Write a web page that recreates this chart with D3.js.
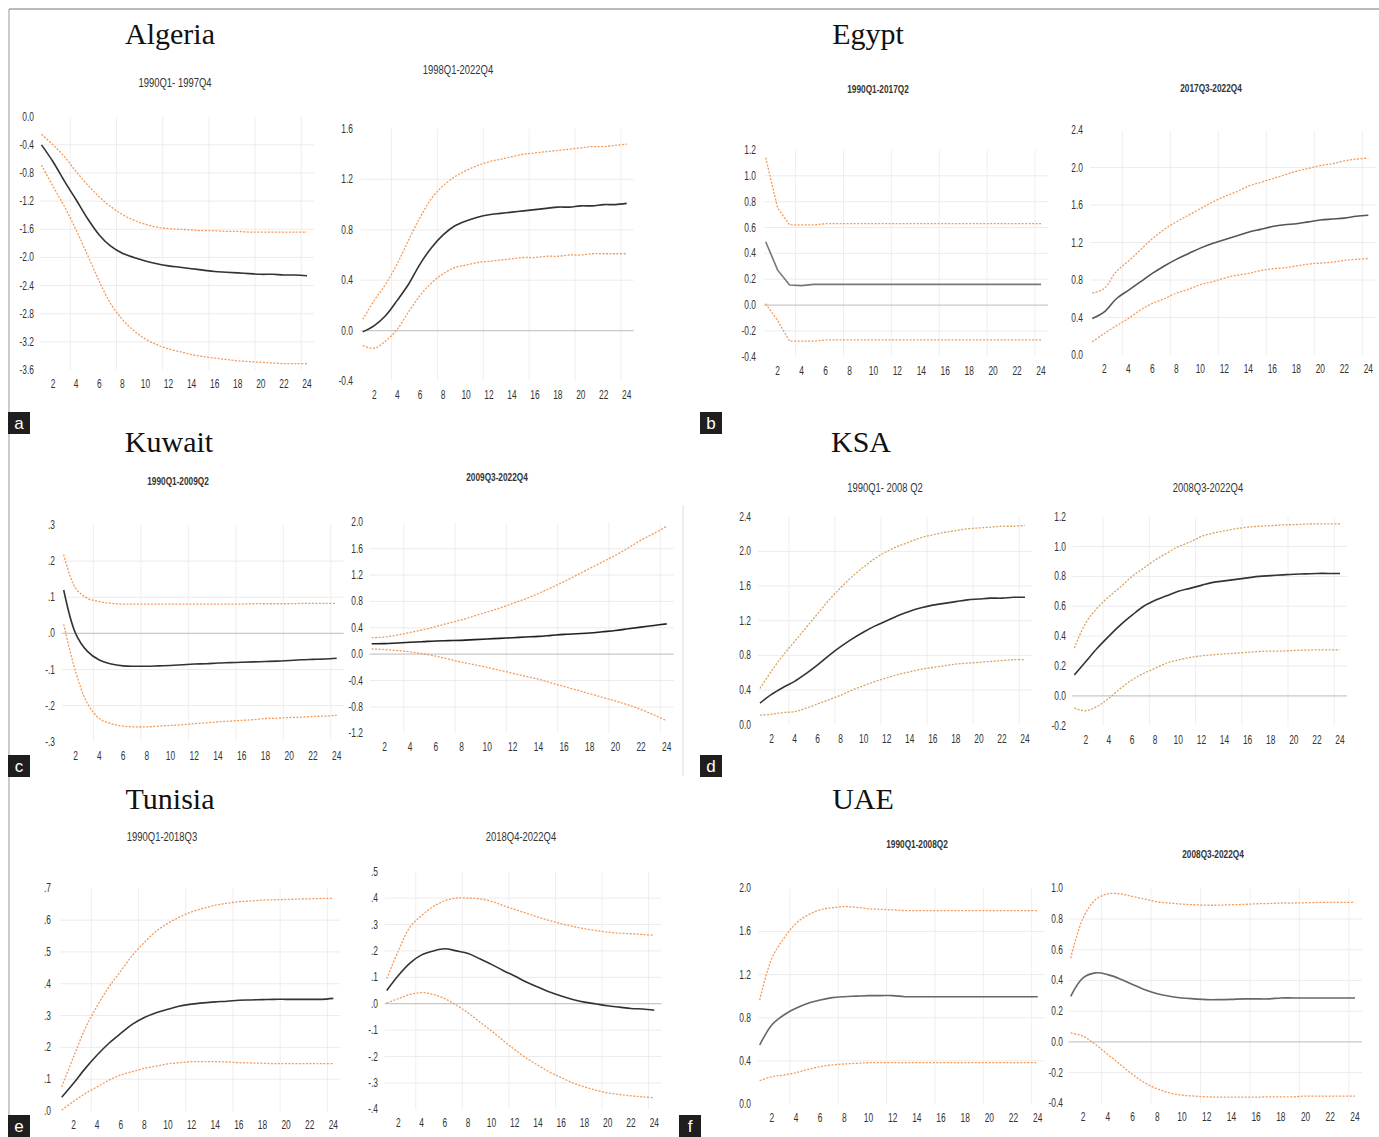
<!DOCTYPE html>
<html>
<head>
<meta charset="utf-8">
<script src="https://cdn.jsdelivr.net/npm/d3@7/dist/d3.min.js"></script>
<style>
  body { margin: 0; background: #fff; }
  .tick-label { font-family: "Liberation Sans", Arial, sans-serif; font-size: 12px; fill: #333; }
  .sub-title { font-family: "Liberation Sans", Arial, sans-serif; fill: #333; }
  .country { font-family: "Liberation Serif", "Times New Roman", serif; font-size: 30px; fill: #111; }
</style>
</head>
<body>
<div id="chart"></div>
<script>
// horizon (quarters after the shock)
var periods = [1,2,3,4,5,6,7,8,9,10,11,12,13,14,15,16,17,18,19,20,21,22,23,24];
var xTickLabels = [2,4,6,8,10,12,14,16,18,20,22,24];

// Algeria
var algeriaPre = [-0.40,-0.64,-0.92,-1.18,-1.45,-1.68,-1.84,-1.94,-2.00,-2.05,-2.09,-2.12,-2.14,-2.16,-2.18,-2.20,-2.21,-2.22,-2.23,-2.24,-2.24,-2.25,-2.25,-2.26];
var algeriaPreUp = [-0.25,-0.40,-0.57,-0.78,-0.97,-1.14,-1.28,-1.39,-1.47,-1.53,-1.57,-1.59,-1.60,-1.61,-1.62,-1.62,-1.63,-1.63,-1.64,-1.64,-1.64,-1.64,-1.64,-1.64];
var algeriaPreLo = [-0.69,-0.99,-1.28,-1.61,-1.97,-2.34,-2.66,-2.88,-3.04,-3.16,-3.24,-3.30,-3.34,-3.38,-3.41,-3.43,-3.45,-3.47,-3.48,-3.49,-3.50,-3.51,-3.51,-3.51];
var algeriaPost = [-0.01,0.04,0.12,0.24,0.37,0.53,0.66,0.76,0.83,0.87,0.90,0.92,0.93,0.94,0.95,0.96,0.97,0.98,0.98,0.99,0.99,1.00,1.00,1.01];
var algeriaPostUp = [0.09,0.24,0.37,0.53,0.72,0.90,1.05,1.15,1.22,1.27,1.31,1.34,1.36,1.38,1.40,1.41,1.42,1.43,1.44,1.45,1.46,1.46,1.47,1.48];
var algeriaPostLo = [-0.12,-0.14,-0.08,0.01,0.15,0.28,0.38,0.45,0.50,0.52,0.54,0.55,0.56,0.57,0.58,0.58,0.59,0.59,0.60,0.60,0.61,0.61,0.61,0.61];

// Egypt
var egyptPre = [0.49,0.27,0.155,0.15,0.16,0.16,0.16,0.16,0.16,0.16,0.16,0.16,0.16,0.16,0.16,0.16,0.16,0.16,0.16,0.16,0.16,0.16,0.16,0.16];
var egyptPreUp = [1.14,0.75,0.62,0.62,0.62,0.63,0.63,0.63,0.63,0.63,0.63,0.63,0.63,0.63,0.63,0.63,0.63,0.63,0.63,0.63,0.63,0.63,0.63,0.63];
var egyptPreLo = [0.01,-0.12,-0.28,-0.28,-0.28,-0.27,-0.27,-0.27,-0.27,-0.27,-0.27,-0.27,-0.27,-0.27,-0.27,-0.27,-0.27,-0.27,-0.27,-0.27,-0.27,-0.27,-0.27,-0.27];
var egyptPost = [0.39,0.46,0.60,0.69,0.78,0.87,0.95,1.02,1.08,1.14,1.19,1.23,1.27,1.31,1.34,1.37,1.39,1.40,1.42,1.44,1.45,1.46,1.48,1.49];
var egyptPostUp = [0.66,0.71,0.89,1.00,1.12,1.24,1.34,1.42,1.49,1.56,1.63,1.69,1.74,1.80,1.84,1.88,1.92,1.96,1.99,2.02,2.04,2.07,2.09,2.10];
var egyptPostLo = [0.14,0.23,0.31,0.39,0.48,0.55,0.60,0.66,0.70,0.75,0.78,0.82,0.85,0.87,0.90,0.92,0.93,0.95,0.97,0.98,0.99,1.01,1.02,1.03];

// Kuwait
var kuwaitPre = [0.12,0.00,-0.05,-0.074,-0.085,-0.09,-0.091,-0.091,-0.09,-0.089,-0.087,-0.085,-0.084,-0.082,-0.081,-0.08,-0.079,-0.078,-0.077,-0.075,-0.073,-0.072,-0.071,-0.069];
var kuwaitPreUp = [0.218,0.125,0.097,0.088,0.083,0.081,0.081,0.081,0.081,0.081,0.081,0.081,0.081,0.081,0.081,0.081,0.082,0.082,0.082,0.082,0.083,0.083,0.083,0.083];
var kuwaitPreLo = [0.025,-0.106,-0.194,-0.236,-0.25,-0.257,-0.259,-0.259,-0.257,-0.255,-0.253,-0.25,-0.248,-0.245,-0.243,-0.241,-0.239,-0.236,-0.235,-0.233,-0.232,-0.23,-0.229,-0.227];
var kuwaitPost = [0.157,0.16,0.17,0.18,0.19,0.20,0.205,0.21,0.22,0.23,0.24,0.25,0.26,0.27,0.285,0.30,0.31,0.32,0.34,0.36,0.385,0.41,0.435,0.46];
var kuwaitPostUp = [0.25,0.26,0.29,0.33,0.37,0.42,0.47,0.52,0.58,0.64,0.70,0.77,0.84,0.92,1.01,1.10,1.20,1.30,1.40,1.50,1.61,1.73,1.83,1.94];
var kuwaitPostLo = [0.08,0.07,0.055,0.035,0.005,-0.03,-0.075,-0.12,-0.16,-0.20,-0.245,-0.29,-0.335,-0.38,-0.435,-0.49,-0.545,-0.60,-0.655,-0.71,-0.77,-0.84,-0.92,-1.01];

// KSA
var ksaPre = [0.25,0.35,0.43,0.50,0.59,0.69,0.80,0.90,0.99,1.07,1.14,1.20,1.26,1.31,1.35,1.38,1.40,1.42,1.44,1.45,1.46,1.46,1.47,1.47];
var ksaPreUp = [0.42,0.62,0.80,0.96,1.12,1.28,1.44,1.58,1.71,1.82,1.92,2.00,2.06,2.11,2.16,2.19,2.22,2.24,2.26,2.27,2.28,2.29,2.29,2.30];
var ksaPreLo = [0.11,0.12,0.14,0.15,0.19,0.24,0.29,0.34,0.40,0.45,0.50,0.54,0.58,0.61,0.64,0.66,0.68,0.70,0.71,0.72,0.73,0.74,0.75,0.75];
var ksaPost = [0.14,0.23,0.32,0.40,0.475,0.54,0.60,0.64,0.67,0.70,0.72,0.74,0.76,0.77,0.78,0.79,0.80,0.805,0.81,0.815,0.817,0.82,0.82,0.82];
var ksaPostUp = [0.32,0.49,0.59,0.665,0.73,0.80,0.855,0.91,0.955,1.00,1.03,1.067,1.09,1.105,1.12,1.13,1.136,1.14,1.145,1.147,1.15,1.152,1.152,1.152];
var ksaPostLo = [-0.083,-0.10,-0.07,-0.016,0.05,0.107,0.15,0.185,0.22,0.24,0.257,0.268,0.275,0.281,0.286,0.292,0.297,0.30,0.30,0.304,0.306,0.308,0.308,0.308];

// Tunisia
var tunisiaPre = [0.043,0.087,0.134,0.176,0.213,0.244,0.273,0.294,0.309,0.32,0.33,0.336,0.34,0.343,0.345,0.348,0.349,0.35,0.351,0.351,0.351,0.351,0.351,0.354];
var tunisiaPreUp = [0.076,0.17,0.26,0.33,0.39,0.44,0.49,0.53,0.565,0.59,0.61,0.626,0.637,0.647,0.653,0.658,0.66,0.663,0.664,0.665,0.666,0.667,0.668,0.668];
var tunisiaPreLo = [0.003,0.03,0.055,0.076,0.097,0.113,0.124,0.134,0.141,0.148,0.152,0.155,0.155,0.155,0.154,0.152,0.151,0.15,0.149,0.149,0.149,0.149,0.149,0.149];
var tunisiaPost = [0.05,0.107,0.154,0.185,0.20,0.208,0.20,0.19,0.17,0.149,0.126,0.105,0.082,0.063,0.044,0.029,0.016,0.006,-0.001,-0.008,-0.013,-0.018,-0.02,-0.025];
var tunisiaPostUp = [0.095,0.20,0.29,0.334,0.368,0.39,0.40,0.40,0.397,0.388,0.372,0.357,0.343,0.328,0.315,0.303,0.293,0.284,0.277,0.271,0.267,0.265,0.262,0.259];
var tunisiaPostLo = [0.003,0.019,0.035,0.042,0.035,0.019,-0.006,-0.035,-0.069,-0.103,-0.139,-0.174,-0.206,-0.233,-0.259,-0.28,-0.30,-0.315,-0.328,-0.338,-0.344,-0.349,-0.353,-0.356];

// UAE
var uaePre = [0.547,0.733,0.825,0.887,0.934,0.964,0.986,0.995,1.00,1.005,1.005,1.005,0.995,0.995,0.995,0.995,0.995,0.995,0.995,0.995,0.995,0.995,0.995,0.995];
var uaePreUp = [0.964,1.35,1.536,1.675,1.753,1.80,1.82,1.83,1.824,1.81,1.805,1.80,1.793,1.793,1.793,1.793,1.793,1.793,1.793,1.793,1.793,1.793,1.793,1.793];
var uaePreLo = [0.216,0.253,0.269,0.29,0.321,0.346,0.362,0.371,0.377,0.383,0.383,0.383,0.383,0.383,0.383,0.383,0.383,0.383,0.383,0.383,0.383,0.383,0.383,0.383];
var uaePost = [0.297,0.416,0.449,0.438,0.41,0.373,0.34,0.314,0.297,0.286,0.28,0.275,0.275,0.277,0.28,0.28,0.28,0.286,0.286,0.286,0.286,0.286,0.286,0.286];
var uaePostUp = [0.546,0.806,0.925,0.964,0.964,0.947,0.93,0.912,0.904,0.897,0.893,0.89,0.89,0.893,0.895,0.899,0.901,0.904,0.904,0.906,0.908,0.908,0.908,0.908];
var uaePostLo = [0.058,0.037,-0.017,-0.082,-0.147,-0.212,-0.267,-0.306,-0.332,-0.347,-0.353,-0.358,-0.36,-0.36,-0.36,-0.36,-0.358,-0.358,-0.358,-0.353,-0.353,-0.353,-0.353,-0.353];

// y tick values of each panel
var ticksAlgeriaPre = [0.0,-0.4,-0.8,-1.2,-1.6,-2.0,-2.4,-2.8,-3.2,-3.6];
var ticksAlgeriaPost = [1.6,1.2,0.8,0.4,0.0,-0.4];
var ticksEgyptPre = [1.2,1.0,0.8,0.6,0.4,0.2,0.0,-0.2,-0.4];
var ticksEgyptPost = [2.4,2.0,1.6,1.2,0.8,0.4,0.0];
var ticksKuwaitPre = [0.3,0.2,0.1,0.0,-0.1,-0.2,-0.3];
var ticksKuwaitPost = [2.0,1.6,1.2,0.8,0.4,0.0,-0.4,-0.8,-1.2];
var ticksKsaPre = [2.4,2.0,1.6,1.2,0.8,0.4,0.0];
var ticksKsaPost = [1.2,1.0,0.8,0.6,0.4,0.2,0.0,-0.2];
var ticksTunisiaPre = [0.7,0.6,0.5,0.4,0.3,0.2,0.1,0.0];
var ticksTunisiaPost = [0.5,0.4,0.3,0.2,0.1,0.0,-0.1,-0.2,-0.3,-0.4];
var ticksUaePre = [2.0,1.6,1.2,0.8,0.4,0.0];
var ticksUaePost = [1.0,0.8,0.6,0.4,0.2,0.0,-0.2,-0.4];

var countries = [
  { name: "Algeria", x: 170, y: 33 },
  { name: "Egypt", x: 868, y: 33 },
  { name: "Kuwait", x: 169, y: 441 },
  { name: "KSA", x: 861, y: 441 },
  { name: "Tunisia", x: 170, y: 798 },
  { name: "UAE", x: 863, y: 798 }
];
var panelLetters = [
  { t: "a", x: 8, y: 412 }, { t: "b", x: 700, y: 412 },
  { t: "c", x: 8, y: 755 }, { t: "d", x: 700, y: 755 },
  { t: "e", x: 8, y: 1115 }, { t: "f", x: 679, y: 1115 }
];

// EViews-like labels: plain hyphen, and ".3" style for one-digit scales
var oneDec = function(d) { return d3.format(".1f")(d).replace("\u2212", "-"); };
var dotFmt = function(d) { return oneDec(d).replace("0.", "."); };

var smooth = d3.curveCatmullRom.alpha(0.5);

var panels = [
  { title: "1990Q1- 1997Q4", tx: 175, ty: 82, bold: false, resp: algeriaPre, up: algeriaPreUp, lo: algeriaPreLo, ticks: ticksAlgeriaPre, fmt: oneDec,
    x1: 41.5, x24: 307, yTop: 116.7, yBot: 370, lab: 34, line: "#333" },
  { title: "1998Q1-2022Q4", tx: 458, ty: 69, bold: false, resp: algeriaPost, up: algeriaPostUp, lo: algeriaPostLo, ticks: ticksAlgeriaPost, fmt: oneDec,
    x1: 362.8, x24: 626.7, yTop: 129, yBot: 381, lab: 353, line: "#333" },
  { title: "1990Q1-2017Q2", tx: 878, ty: 89, bold: true, resp: egyptPre, up: egyptPreUp, lo: egyptPreLo, ticks: ticksEgyptPre, fmt: oneDec,
    x1: 765.7, x24: 1041, yTop: 150, yBot: 356.7, lab: 756, line: "#777", curve: d3.curveLinear },
  { title: "2017Q3-2022Q4", tx: 1211, ty: 88, bold: true, resp: egyptPost, up: egyptPostUp, lo: egyptPostLo, ticks: ticksEgyptPost, fmt: oneDec,
    x1: 1092.3, x24: 1368.3, yTop: 130, yBot: 355, lab: 1083, line: "#555" },
  { title: "1990Q1-2009Q2", tx: 178, ty: 481, bold: true, resp: kuwaitPre, up: kuwaitPreUp, lo: kuwaitPreLo, ticks: ticksKuwaitPre, fmt: dotFmt,
    x1: 63.7, x24: 336.7, yTop: 525, yBot: 741.7, lab: 55, line: "#333" },
  { title: "2009Q3-2022Q4", tx: 497, ty: 477, bold: true, resp: kuwaitPost, up: kuwaitPostUp, lo: kuwaitPostLo, ticks: ticksKuwaitPost, fmt: oneDec,
    x1: 371.7, x24: 666.7, yTop: 522.3, yBot: 733.3, lab: 363, line: "#222" },
  { title: "1990Q1- 2008 Q2", tx: 885, ty: 487, bold: false, resp: ksaPre, up: ksaPreUp, lo: ksaPreLo, ticks: ticksKsaPre, fmt: oneDec,
    x1: 760, x24: 1025, yTop: 516.7, yBot: 724.7, lab: 751, line: "#333", band: "#d9a35f" },
  { title: "2008Q3-2022Q4", tx: 1208, ty: 487, bold: false, resp: ksaPost, up: ksaPostUp, lo: ksaPostLo, ticks: ticksKsaPost, fmt: oneDec,
    x1: 1074.3, x24: 1340, yTop: 516.7, yBot: 725.7, lab: 1066, line: "#333", band: "#d9a35f" },
  { title: "1990Q1-2018Q3", tx: 162, ty: 836, bold: false, resp: tunisiaPre, up: tunisiaPreUp, lo: tunisiaPreLo, ticks: ticksTunisiaPre, fmt: dotFmt,
    x1: 61.7, x24: 333.3, yTop: 888.3, yBot: 1111, lab: 51, line: "#333" },
  { title: "2018Q4-2022Q4", tx: 521, ty: 836, bold: false, resp: tunisiaPost, up: tunisiaPostUp, lo: tunisiaPostLo, ticks: ticksTunisiaPost, fmt: dotFmt,
    x1: 386.7, x24: 654.3, yTop: 871.7, yBot: 1109.3, lab: 378, line: "#333" },
  { title: "1990Q1-2008Q2", tx: 917, ty: 844, bold: true, resp: uaePre, up: uaePreUp, lo: uaePreLo, ticks: ticksUaePre, fmt: oneDec,
    x1: 759.7, x24: 1037.7, yTop: 888.3, yBot: 1104, lab: 751, line: "#666" },
  { title: "2008Q3-2022Q4", tx: 1213, ty: 854, bold: true, resp: uaePost, up: uaePostUp, lo: uaePostLo, ticks: ticksUaePost, fmt: oneDec,
    x1: 1070.7, x24: 1355, yTop: 888.3, yBot: 1103.3, lab: 1063, line: "#666" }
];

var width = 1379, height = 1137;
var svg = d3.select("#chart").append("svg")
    .attr("width", width)
    .attr("height", height);

// frame lines of the figure
svg.append("line").attr("x1", 9).attr("x2", width).attr("y1", 9).attr("y2", 9)
    .style("stroke", "#777").style("stroke-width", 1);
svg.append("line").attr("x1", 9).attr("x2", 9).attr("y1", 9).attr("y2", height)
    .style("stroke", "#999").style("stroke-width", 1);
svg.append("line").attr("x1", 683).attr("x2", 683).attr("y1", 505).attr("y2", 776)
    .style("stroke", "#ddd").style("stroke-width", 1);

svg.selectAll(".country").data(countries).enter().append("text")
    .attr("class", "country")
    .attr("x", function(d) { return d.x; })
    .attr("y", function(d) { return d.y; })
    .attr("text-anchor", "middle")
    .attr("dominant-baseline", "central")
    .text(function(d) { return d.name; });

// narrow (condensed-looking) text, squeezed horizontally
var narrow = 0.7;

var drawPanel = function(p) {
  var g = svg.append("g");
  var x = d3.scaleLinear().domain([1, 24]).range([p.x1, p.x24]);
  var y = d3.scaleLinear().domain(d3.extent(p.ticks)).range([p.yBot, p.yTop]);
  var right = p.x24 + 7;

  // vertical grid
  g.selectAll(".vgrid").data([3.5, 7.5, 11.5, 15.5, 19.5, 23.5]).enter().append("line")
      .attr("x1", function(d) { return x(d); })
      .attr("x2", function(d) { return x(d); })
      .attr("y1", p.yTop)
      .attr("y2", p.yBot)
      .style("stroke", "#efefef");

  // horizontal grid, interior ticks only; zero is darker
  var inner = p.ticks.filter(function(t, i) { return i > 0 && i < p.ticks.length - 1; });
  g.selectAll(".hgrid").data(inner).enter().append("line")
      .attr("x1", p.x1 - 2)
      .attr("x2", right)
      .attr("y1", function(d) { return y(d); })
      .attr("y2", function(d) { return y(d); })
      .style("stroke", function(d) { return d === 0 ? "#c8c8c8" : "#ececec"; })
      .style("stroke-width", function(d) { return d === 0 ? 1.2 : 1; });

  g.selectAll(".ylab").data(p.ticks).enter().append("text")
      .attr("class", "tick-label")
      .attr("transform", function(d) { return "translate(" + p.lab + "," + y(d) + ") scale(" + narrow + ",1)"; })
      .attr("text-anchor", "end")
      .attr("dominant-baseline", "central")
      .text(function(d) { return p.fmt(d); });

  g.selectAll(".xlab").data(xTickLabels).enter().append("text")
      .attr("class", "tick-label")
      .attr("transform", function(d) { return "translate(" + x(d) + "," + (p.yBot + 14) + ") scale(" + narrow + ",1)"; })
      .attr("text-anchor", "middle")
      .attr("dominant-baseline", "central")
      .text(function(d) { return d; });

  g.append("text")
      .attr("class", "sub-title")
      .attr("transform", "translate(" + p.tx + "," + p.ty + ") scale(" + (p.bold ? 0.75 : 0.7) + ",1)")
      .attr("text-anchor", "middle")
      .attr("dominant-baseline", "central")
      .style("font-size", p.bold ? "11px" : "13.5px")
      .style("font-weight", p.bold ? "bold" : "normal")
      .text(p.title);

  var line = d3.line()
      .x(function(d, i) { return x(periods[i]); })
      .y(function(d) { return y(d); })
      .curve(p.curve || smooth);

  [p.up, p.lo].forEach(function(s) {
    g.append("path")
        .attr("d", line(s))
        .style("fill", "none")
        .style("stroke", p.band || "#f39a5a")
        .style("stroke-width", 1.3)
        .style("stroke-dasharray", "2,1.5");
  });

  g.append("path")
      .attr("d", line(p.resp))
      .style("fill", "none")
      .style("stroke", p.line)
      .style("stroke-width", 1.6);
};

panels.forEach(drawPanel);

var letters = svg.selectAll(".letter").data(panelLetters).enter().append("g")
    .attr("transform", function(d) { return "translate(" + d.x + "," + d.y + ")"; });
letters.append("rect")
    .attr("width", 22).attr("height", 22)
    .style("fill", "#1e1e1e");
letters.append("text")
    .attr("x", 11).attr("y", 11)
    .attr("text-anchor", "middle")
    .attr("dominant-baseline", "central")
    .style("font-family", "Liberation Sans, Arial, sans-serif")
    .style("font-size", "17px")
    .style("fill", "#fff")
    .text(function(d) { return d.t; });
</script>
</body>
</html>
